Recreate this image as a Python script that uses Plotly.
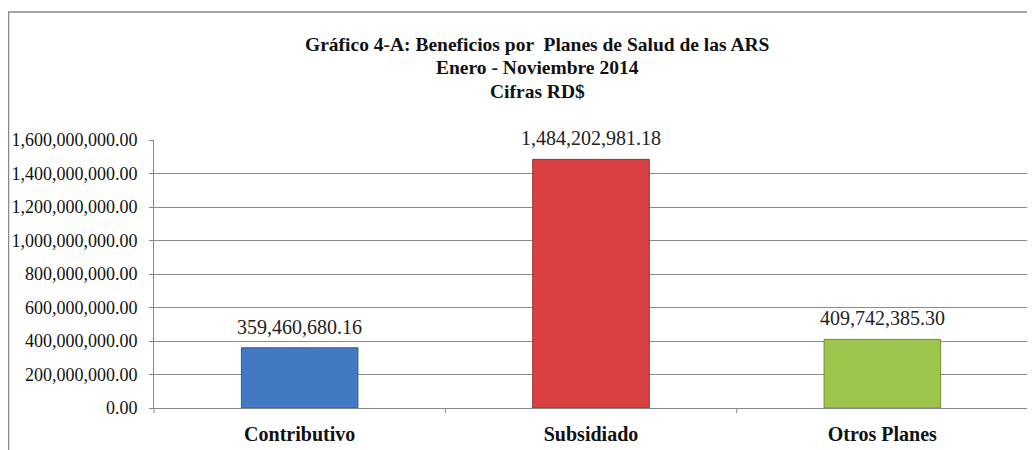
import plotly.graph_objects as go

categories = ["Contributivo", "Subsidiado", "Otros Planes"]
values = [359460680.16, 1484202981.18, 409742385.30]
colors = ["#4279c2", "#d84141", "#9dc54e"]
border_colors = ["#2f5d99", "#a02a2a", "#6f9030"]
title_lines = ["Gráfico 4-A: Beneficios por  Planes de Salud de las ARS",
               "Enero - Noviembre 2014", "Cifras RD$"]
title_y_px = [44, 68, 92]

SERIF = "Liberation Serif"
OFF = 8  # page body margin

fig = go.Figure()
fig.add_trace(go.Bar(
    x=categories, y=values, width=0.4,
    marker=dict(color=colors, line=dict(color=border_colors, width=1)),
    hoverinfo="skip",
))

for c, v in zip(categories, values):
    fig.add_annotation(x=c, y=v, text=f"{v:,.2f}", showarrow=False,
                       yanchor="bottom", yshift=8,
                       font=dict(family=SERIF, size=20, color="#222"))

W, H = 1035 - OFF, 450 - OFF
L, R, T, B = 154 - OFF, 7, 140 - OFF, 42
pw = W - L - R
ph = H - T - B

def px_x(p):
    return (p - OFF - L) / pw

def px_y(p):
    return (H + OFF - B - p) / ph

for t, yp in zip(title_lines, title_y_px):
    fig.add_annotation(xref="paper", yref="paper", x=px_x(537), y=px_y(yp),
                       yanchor="middle", showarrow=False,
                       text=f"<b>{t}</b>",
                       font=dict(family=SERIF, size=19.5, color="#111"))

fig.add_shape(type="rect", xref="paper", yref="paper",
              x0=px_x(8.5), x1=px_x(1045), y0=px_y(470), y1=px_y(12),
              line=dict(color="#888", width=1.5), layer="below")

fig.update_layout(
    width=W, height=H,
    margin=dict(l=L, r=R, t=T, b=B),
    paper_bgcolor="white", plot_bgcolor="white",
    showlegend=False,
    xaxis=dict(showline=True, linecolor="#888", linewidth=1,
               ticks="", showgrid=False, automargin=False,
               tickfont=dict(family=SERIF, size=20, color="#111"),
               ticklabelstandoff=8),
    yaxis=dict(range=[0, 1.6e9], dtick=2e8, tickformat=",.2f",
               showline=True, linecolor="#888", linewidth=1,
               ticks="outside", ticklen=4, tickcolor="#888",
               showgrid=True, gridcolor="#8c8c8c", gridwidth=1,
               zeroline=False, ticklabelstandoff=8, automargin=False,
               tickfont=dict(family=SERIF, size=18, color="#111")),
)

for i in range(len(categories) + 1):
    fig.add_shape(type="line", xref="paper", yref="paper",
                  x0=i / len(categories), x1=i / len(categories),
                  y0=0, y1=-5 / ph, line=dict(color="#888", width=1))

fig.update_xaxes(tickvals=categories,
                 ticktext=[f"<b>{c}</b>" for c in categories])

fig.write_html("out.html")
